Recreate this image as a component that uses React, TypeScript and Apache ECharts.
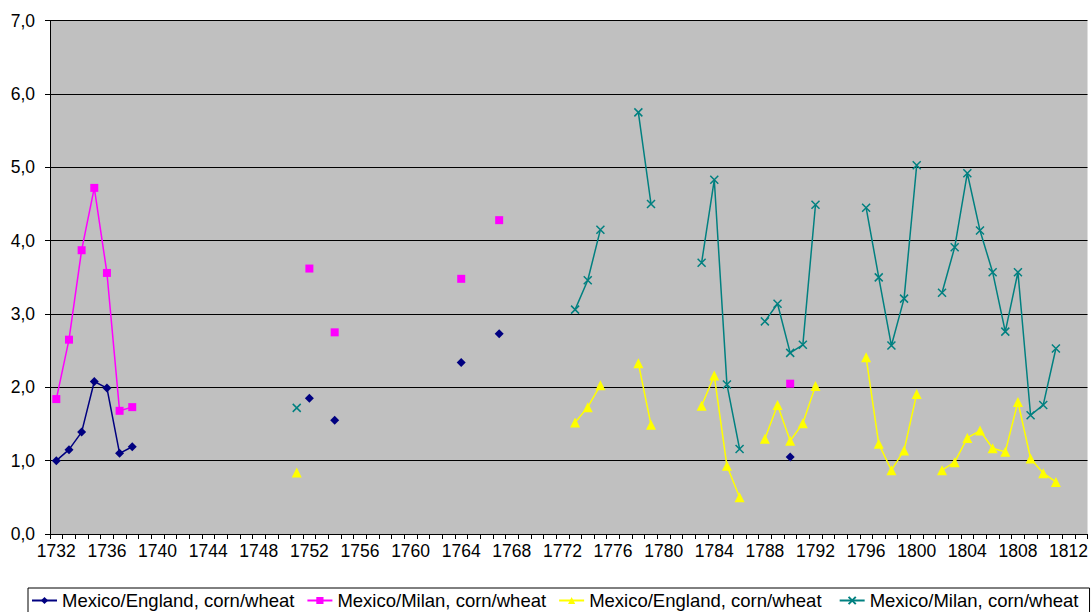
import React, { useEffect, useRef } from "react";
import * as echarts from "echarts";

const firstYear = 1732;
const lastYear = 1813;
const years: string[] = [];
for (let y = firstYear; y <= lastYear; y++) years.push(String(y));

const seriesNames = [
  "Mexico/England, corn/wheat",
  "Mexico/Milan, corn/wheat",
  "Mexico/England, corn/wheat ",
  "Mexico/Milan, corn/wheat ",
];

const navyYears = [1732, 1733, 1734, 1735, 1736, 1737, 1738, 1752, 1754, 1764, 1767, 1790];
const navyValues = [1.0, 1.15, 1.39, 2.08, 1.99, 1.1, 1.19, 1.85, 1.55, 2.34, 2.73, 1.05];

const magentaYears = [1732, 1733, 1734, 1735, 1736, 1737, 1738, 1752, 1754, 1764, 1767, 1790];
const magentaValues = [1.84, 2.65, 3.87, 4.72, 3.56, 1.68, 1.73, 3.62, 2.75, 3.48, 4.28, 2.05];

const yellowYears = [
  1751, 1773, 1774, 1775, 1778, 1779, 1783, 1784, 1785, 1786, 1788, 1789, 1790, 1791, 1792,
  1796, 1797, 1798, 1799, 1800, 1802, 1803, 1804, 1805, 1806, 1807, 1808, 1809, 1810, 1811,
];
const yellowValues = [
  0.84, 1.52, 1.73, 2.03, 2.33, 1.49, 1.75, 2.16, 0.93, 0.5, 1.3, 1.76, 1.27, 1.51, 2.02,
  2.41, 1.23, 0.87, 1.14, 1.91, 0.87, 0.98, 1.31, 1.41, 1.17, 1.12, 1.8, 1.03, 0.83, 0.71,
];

const tealYears = [
  1751, 1773, 1774, 1775, 1778, 1779, 1783, 1784, 1785, 1786, 1788, 1789, 1790, 1791, 1792,
  1796, 1797, 1798, 1799, 1800, 1802, 1803, 1804, 1805, 1806, 1807, 1808, 1809, 1810, 1811,
];
const tealValues = [
  1.72, 3.06, 3.46, 4.15, 5.75, 4.5, 3.7, 4.83, 2.04, 1.16, 2.9, 3.14, 2.47, 2.58, 4.49,
  4.45, 3.5, 2.57, 3.21, 5.03, 3.29, 3.91, 4.92, 4.14, 3.57, 2.76, 3.57, 1.62, 1.76, 2.53,
];

function toCategoryData(ys: number[], vs: number[]): (number | null)[] {
  const out: (number | null)[] = years.map(() => null);
  ys.forEach((y, i) => {
    const idx = years.indexOf(String(y));
    if (idx >= 0) out[idx] = vs[i];
  });
  return out;
}

const FONT = "'Liberation Sans', Arial, sans-serif";

export default function App() {
  const ref = useRef<HTMLDivElement>(null);
  useEffect(() => {
    if (!ref.current) return;
    const chart = echarts.init(ref.current, undefined, { renderer: "svg" });
    const mk = (
      name: string,
      color: string,
      symbol: string,
      size: number,
      data: (number | null)[],
      stroke?: boolean
    ) => ({
      name,
      type: "line",
      data,
      symbol,
      symbolSize: size,
      showSymbol: true,
      showAllSymbol: true,
      connectNulls: false,
      lineStyle: { color, width: 1.5 },
      itemStyle: stroke
        ? { color: "rgba(0,0,0,0)", borderColor: color, borderWidth: 1.5 }
        : { color, borderWidth: 0 },
      emphasis: { disabled: true },
    });
    chart.setOption({
      animation: false,
      backgroundColor: "#ffffff",
      textStyle: { fontFamily: FONT },
      grid: {
        left: 50,
        top: 20.7,
        right: 1,
        bottom: 78,
        show: true,
        backgroundColor: "#C0C0C0",
        borderWidth: 0,
      },
      legend: {
        left: 28,
        top: 588,
        orient: "horizontal",
        padding: [3, 6, 3, 3],
        itemGap: 12,
        itemWidth: 25,
        itemHeight: 9,
        borderColor: "#000",
        borderWidth: 1,
        backgroundColor: "#fff",
        textStyle: { fontSize: 18.5, color: "#000", fontFamily: FONT },
        data: seriesNames,
      },
      xAxis: {
        type: "category",
        data: years,
        boundaryGap: true,
        axisLine: { show: true, lineStyle: { color: "#000", width: 1 } },
        axisTick: { show: true, interval: 0, alignWithLabel: false, length: 5, lineStyle: { color: "#000" } },
        axisLabel: { interval: 3, margin: 8, fontSize: 17.5, color: "#000", fontFamily: FONT },
        splitLine: { show: false },
      },
      yAxis: {
        type: "value",
        min: 0,
        max: 7,
        interval: 1,
        axisLine: { show: true, lineStyle: { color: "#000", width: 1 } },
        axisTick: { show: true, length: 5, lineStyle: { color: "#000" } },
        axisLabel: {
          margin: 15,
          fontSize: 17.5,
          color: "#000",
          fontFamily: FONT,
          formatter: (v: number) => v.toFixed(1).replace(".", ","),
        },
        splitLine: { show: true, lineStyle: { color: "#000", width: 1 } },
      },
      series: [
        mk(seriesNames[0], "#000080", "diamond", 9, toCategoryData(navyYears, navyValues)),
        mk(seriesNames[1], "#FF00FF", "rect", 8, toCategoryData(magentaYears, magentaValues)),
        mk(seriesNames[2], "#FFFF00", "triangle", 10, toCategoryData(yellowYears, yellowValues)),
        mk(
          seriesNames[3],
          "#008080",
          "path://M0,0L10,10M0,10L10,0",
          8,
          toCategoryData(tealYears, tealValues),
          true
        ),
      ],
    });
    return () => chart.dispose();
  }, []);
  return (
    <div
      ref={ref}
      style={{ position: "fixed", left: 0, top: 0, width: 1091, height: 612, overflow: "hidden" }}
    />
  );
}
